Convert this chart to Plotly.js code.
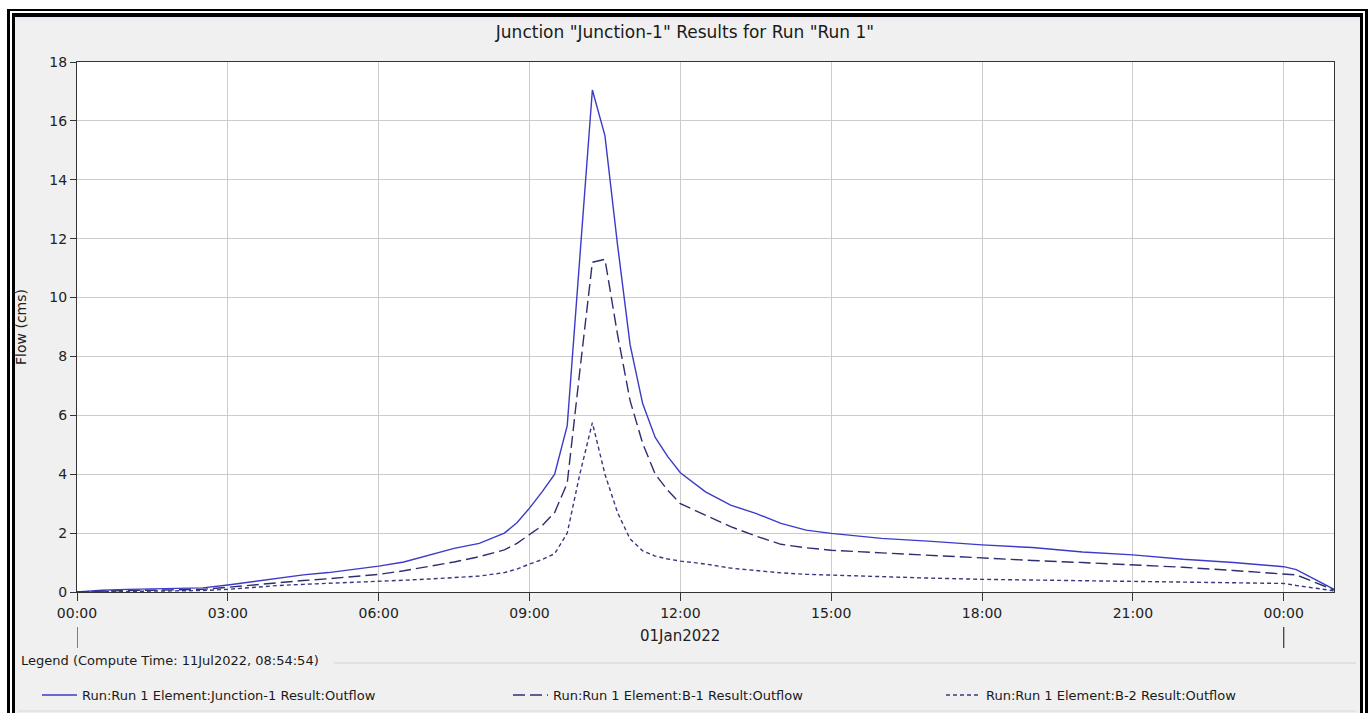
<!DOCTYPE html>
<html>
<head>
<meta charset="utf-8">
<script src="https://cdn.plot.ly/plotly-3.0.1.min.js"></script>
<style>
  html, body { margin:0; padding:0; background:#ffffff; overflow:hidden; width:1370px; height:713px; }
  #outer { position:absolute; left:7px; top:9px; width:1361px; height:720px; box-sizing:border-box;
           border-left:3px solid #000; border-top:2px solid #000; border-right:3px solid #000; background:#fff; }
  #inner { position:absolute; left:12px; top:13px; width:1351px; height:720px; box-sizing:border-box;
           border-left:3px solid #000; border-top:4px solid #000; border-right:3px solid #000; background:#f0f0f0; }
  #strip { position:absolute; left:15px; top:17px; width:1345px; height:6px;
           background:linear-gradient(to bottom, #dfe9f5, #f3e9ee, #f0f0f0); }
  #chart { position:absolute; left:0; top:0; width:1370px; height:713px; }
</style>
</head>
<body>
<div id="outer"></div>
<div id="inner"></div>
<div id="strip"></div>
<div id="chart"></div>
<script>
// ---- data ----
const times = [
  "2022-01-01 00:00","2022-01-01 00:30","2022-01-01 01:00","2022-01-01 01:30","2022-01-01 02:00","2022-01-01 02:30",
  "2022-01-01 03:00","2022-01-01 03:30","2022-01-01 04:00","2022-01-01 04:30","2022-01-01 05:00","2022-01-01 05:30",
  "2022-01-01 06:00","2022-01-01 06:30","2022-01-01 07:00","2022-01-01 07:30","2022-01-01 08:00",
  "2022-01-01 08:30","2022-01-01 08:45","2022-01-01 09:00","2022-01-01 09:15","2022-01-01 09:30","2022-01-01 09:45",
  "2022-01-01 10:00","2022-01-01 10:15","2022-01-01 10:30","2022-01-01 10:45","2022-01-01 11:00","2022-01-01 11:15",
  "2022-01-01 11:30","2022-01-01 11:45","2022-01-01 12:00",
  "2022-01-01 12:30","2022-01-01 13:00","2022-01-01 13:30","2022-01-01 14:00","2022-01-01 14:30","2022-01-01 15:00",
  "2022-01-01 16:00","2022-01-01 17:00","2022-01-01 18:00","2022-01-01 19:00","2022-01-01 20:00","2022-01-01 21:00",
  "2022-01-01 22:00","2022-01-01 23:00",
  "2022-01-02 00:00","2022-01-02 00:15","2022-01-02 01:00"
];
const junctionOutflow = [
  0,0.06,0.09,0.11,0.12,0.14,0.24,0.35,0.46,0.58,0.66,0.76,0.88,1.02,1.24,1.48,1.65,
  2.0,2.35,2.85,3.4,4.0,5.65,11.5,17.05,15.5,11.8,8.4,6.4,5.25,4.6,4.05,
  3.4,2.95,2.67,2.33,2.1,1.99,
  1.82,1.72,1.6,1.51,1.36,1.26,1.11,1.0,
  0.86,0.76,0.09
];
const b1Outflow = [
  0,0.03,0.05,0.06,0.07,0.09,0.16,0.24,0.32,0.39,0.45,0.53,0.6,0.72,0.86,1.02,1.2,
  1.43,1.65,1.95,2.25,2.7,3.7,7.5,11.2,11.3,8.75,6.5,5.05,4.0,3.45,3.0,
  2.6,2.22,1.9,1.62,1.5,1.42,
  1.33,1.24,1.14,1.07,1.0,0.92,0.84,0.73,
  0.63,0.58,0.07
];
const b2Outflow = [
  0,0.01,0.02,0.03,0.04,0.05,0.09,0.16,0.22,0.26,0.29,0.32,0.35,0.4,0.44,0.49,0.54,
  0.66,0.78,0.95,1.1,1.3,2.0,4.0,5.75,4.0,2.7,1.8,1.4,1.22,1.12,1.05,
  0.95,0.81,0.72,0.65,0.6,0.57,
  0.51,0.47,0.43,0.41,0.39,0.37,0.34,0.31,
  0.29,0.22,0.04
];
const seriesNames = [
  "Run:Run 1 Element:Junction-1 Result:Outflow",
  "Run:Run 1 Element:B-1 Result:Outflow",
  "Run:Run 1 Element:B-2 Result:Outflow"
];
const xRange = ["2022-01-01 00:00", "2022-01-02 01:00"];
const dayMarks = ["2022-01-01 00:00", "2022-01-02 00:00"];
const dateLabel = "01Jan2022";
const dateLabelAt = "2022-01-01 12:00";
const chartTitle = 'Junction "Junction-1" Results for Run "Run 1"';
const yTitle = "Flow (cms)";
const legendHeader = "Legend (Compute Time: 11Jul2022, 08:54:54)";

// ---- geometry helpers (pixels -> paper) ----
const L = 77, T = 62, R = 1334, B = 592;
const PW = R - L, PH = B - T;
const px = x => (x - L) / PW;
const py = y => (B - y) / PH;

const FONT = "DejaVu Sans, Arial, sans-serif";
const legFont = {family: FONT, size: 13, color: "#1a1a1a"};

const traces = [
  {x: times, y: junctionOutflow, name: seriesNames[0], type: "scatter", mode: "lines",
   line: {color: "#3b3bc8", width: 1.4}, legend: "legend"},
  {x: times, y: b1Outflow, name: seriesNames[1], type: "scatter", mode: "lines",
   line: {color: "#2e2e72", width: 1.4, dash: "12px,5px"}, legend: "legend2"},
  {x: times, y: b2Outflow, name: seriesNames[2], type: "scatter", mode: "lines",
   line: {color: "#383880", width: 1.4, dash: "4px,3px"}, legend: "legend3"}
];

const legBase = {orientation: "h", yanchor: "middle", xanchor: "left", bgcolor: "rgba(0,0,0,0)",
                 borderwidth: 0, font: legFont, itemwidth: 35, itemclick: false, itemdoubleclick: false};

const shapes = dayMarks.map(d => ({type: "line", xref: "x", yref: "paper", x0: d, x1: d,
  y0: py(627), y1: py(648), line: {color: "#333", width: 1.2}}));
shapes.push({type: "line", xref: "paper", yref: "paper", x0: px(334), x1: px(1356), y0: py(663), y1: py(663),
  line: {color: "#d2d2d2", width: 1}});
shapes.push({type: "line", xref: "paper", yref: "paper", x0: px(18), x1: px(1356), y0: py(711), y1: py(711),
  line: {color: "#d8d8d8", width: 1}});

const layout = {
  width: 1370, height: 713,
  paper_bgcolor: "rgba(0,0,0,0)", plot_bgcolor: "#ffffff",
  margin: {l: L, r: 1370 - R, t: T, b: 713 - B, pad: 0, autoexpand: false},
  showlegend: true,
  title: {text: chartTitle, x: 0.5, xref: "container", xanchor: "center",
          y: 1 - 32 / 713, yref: "container", yanchor: "middle",
          font: {family: FONT, size: 17, color: "#1a1a1a"}},
  xaxis: {type: "date", range: xRange, tick0: "2022-01-01 00:00", dtick: 3 * 3600 * 1000,
          tickformat: "%H:%M", ticks: "outside", ticklen: 8, tickwidth: 1, tickcolor: "#333",
          showgrid: true, gridcolor: "#cccccc", gridwidth: 1, automargin: false,
          showline: true, linecolor: "#333", linewidth: 1, mirror: true, zeroline: false,
          tickfont: {family: FONT, size: 14, color: "#222"}, fixedrange: true},
  yaxis: {range: [0, 18], dtick: 2, tick0: 0, ticks: "outside", ticklen: 6, tickwidth: 1, tickcolor: "#333",
          showgrid: true, gridcolor: "#cccccc", gridwidth: 1, automargin: false,
          showline: true, linecolor: "#333", linewidth: 1, mirror: true, zeroline: false,
          tickfont: {family: FONT, size: 14, color: "#222"},
          title: {text: yTitle, standoff: 19, font: {family: FONT, size: 14, color: "#222"}}, fixedrange: true},
  legend:  Object.assign({}, legBase, {x: px(37), y: py(695)}),
  legend2: Object.assign({}, legBase, {x: px(508), y: py(695)}),
  legend3: Object.assign({}, legBase, {x: px(941), y: py(695)}),
  shapes: shapes,
  annotations: [
    {text: dateLabel, xref: "x", yref: "paper", x: dateLabelAt, y: py(636), xanchor: "center", yanchor: "middle",
     showarrow: false, font: {family: FONT, size: 15, color: "#222"}},
    {text: legendHeader, xref: "paper", yref: "paper", x: px(19), y: py(660), xanchor: "left", yanchor: "middle",
     showarrow: false, font: legFont}
  ]
};

Plotly.newPlot("chart", traces, layout, {displayModeBar: false, staticPlot: true});
</script>
</body>
</html>
